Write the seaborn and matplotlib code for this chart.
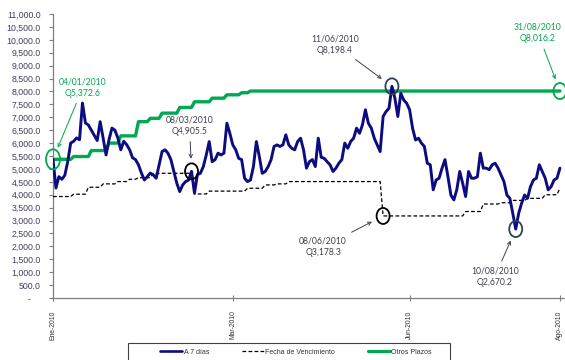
import numpy as np
import pandas as pd
import matplotlib
matplotlib.use("Agg")
import matplotlib.pyplot as plt
from matplotlib.patches import Ellipse, Rectangle
from matplotlib.lines import Line2D
from matplotlib.ticker import FixedLocator, FuncFormatter
import seaborn as sns

# Saldos diarios (millones de quetzales), 04/01/2010 - 31/08/2010, días hábiles
a7_dias = [
    5372.6, 4260, 4700, 4600, 4750, 5280, 6000, 6070, 6200, 6130,
    7550, 6780, 6700, 6500, 6300, 6100, 6830, 6200, 5540, 6130,
    6580, 6500, 6200, 5740, 6070, 5940, 5740, 5430, 5360, 5160,
    4840, 4570, 4700, 4840, 4770, 4640, 5160, 5670, 5740, 5610,
    5360, 4900, 4450, 4120, 4380, 4510, 4570, 4905.5, 4060, 4780,
    4830, 5090, 5540, 6060, 5280, 5360, 5610, 5540, 5610, 6770,
    6380, 5930, 5740, 5410, 5360, 4640, 4510, 4570, 5090, 6060,
    5480, 4830, 4900, 5090, 5360, 5870, 5930, 5870, 5930, 6320,
    5930, 5800, 5740, 6060, 6190, 5740, 5030, 5280, 5360, 5090,
    6190, 5450, 5410, 5280, 5160, 4900, 5030, 5220, 5360, 6000,
    5800, 6060, 6190, 6580, 6380, 6710, 7290, 6770, 6580, 6190,
    5930, 5670, 7030, 7220, 7350, 8198.4, 7740, 7030, 7930, 7670,
    7540, 7290, 6580, 6120, 6190, 6000, 5870, 5220, 5160, 4190,
    4570, 4640, 5030, 5360, 4700, 3990, 3800, 4190, 4900, 4440,
    3930, 4900, 4640, 4640, 4700, 5610, 5030, 5030, 4970, 5160,
    5220, 5030, 4770, 4510, 3990, 3860, 3280, 2670.2, 3280, 3670,
    3990, 3860, 4310, 4570, 4640, 5160, 4900, 4640, 4190, 4310,
    4570, 4640, 5030,
]

# Fecha de vencimiento: niveles y número de días que se mantiene cada uno
venc_niveles = [3930, 4020, 4290, 4420, 4510, 4600, 4660, 4830, 4030, 4140,
                4250, 4380, 4420, 4510, 3178.3, 3350, 3640, 3690, 3780, 3860,
                4000, 4260]
venc_dias = [7, 5, 5, 5, 4, 3, 5, 14, 5, 13,
             6, 4, 4, 32, 28, 6, 6, 4, 5, 6,
             5, 1]

# Otros plazos: niveles y número de días de cada nivel
otros_niveles = [5372.6, 5480, 5710, 6000, 6280, 6830, 6960, 7160, 7380, 7600,
                 7740, 7870, 7950, 8016.2]
otros_dias = [7, 6, 6, 4, 6, 4, 4, 6, 5, 6, 5, 5, 3, 106]

tick_pos = [0, 61, 121, 172]
tick_labels = ["Ene-2010", "Mar-2010", "Jun-2010", "Ago-2010"]

series_names = ["A 7 días", "Fecha de Vencimiento", "Otros Plazos"]

# Puntos destacados: (serie, índice, fecha, desplazamiento del texto en px)
destacados = [
    ("otros", 0, "04/01/2010", (30, 72)),
    ("a7", 47, "08/03/2010", (-2, 46)),
    ("a7", 115, "11/06/2010", (-57, 42)),
    ("otros", 172, "31/08/2010", (-22, 58)),
    ("venc", 112, "08/06/2010", (-60, -31)),
    ("a7", 157, "10/08/2010", (-21, -48)),
]

venc = np.repeat(venc_niveles, venc_dias)
otros = np.repeat(otros_niveles, otros_dias)
df = pd.DataFrame({
    "dia": np.arange(len(a7_dias)),
    "a7": a7_dias,
    "venc": venc,
    "otros": otros,
})

sns.set_theme(style="white")
plt.rcParams["font.family"] = ["Liberation Sans", "DejaVu Sans"]

NAVY = "#0c0c80"
GREEN = "#00a84f"
SLATE = "#2c4257"
TXT = "#463c5a"

fig = plt.figure(figsize=(5.65, 3.6), dpi=100)
ax = fig.add_axes([53 / 565, 1 - 298 / 360, (562 - 53) / 565, (298 - 14) / 360])

sns.lineplot(data=df, x="dia", y="otros", ax=ax, color=GREEN, linewidth=2.4,
             label=series_names[2], zorder=2)
sns.lineplot(data=df, x="dia", y="venc", ax=ax, color="black", linewidth=0.9,
             linestyle=(0, (3, 1.8)), label=series_names[1], zorder=3)
sns.lineplot(data=df, x="dia", y="a7", ax=ax, color=NAVY, linewidth=2.1,
             label=series_names[0], zorder=4)
if ax.get_legend() is not None:
    ax.get_legend().remove()

ax.set_xlim(0, 172.7)
ax.set_ylim(0, 11000)
ax.set_xlabel("")
ax.set_ylabel("")

for s in ["top", "right"]:
    ax.spines[s].set_visible(False)
for s in ["left", "bottom"]:
    ax.spines[s].set_color("#7f7f7f")
    ax.spines[s].set_linewidth(0.9)
ax.spines["bottom"].set_bounds(0, 174)
ax.spines["bottom"].set_clip_on(False)

ax.yaxis.set_major_locator(FixedLocator(np.arange(0, 11001, 500)))
ax.yaxis.set_major_formatter(FuncFormatter(
    lambda v, p: "-    " if v == 0 else f"{v:,.1f}"))
ax.tick_params(axis="y", direction="out", length=3, width=0.8, color="#7f7f7f",
               labelsize=6.3, labelcolor=TXT, pad=6, left=True)
ax.set_xticks(tick_pos)
ax.set_xticklabels(tick_labels, rotation=90, va="top", ha="center")
ax.tick_params(axis="x", direction="inout", length=4, width=0.8, color="#7f7f7f",
               labelsize=4.9, labelcolor="#333333", pad=7, bottom=True)

ann_font = ["Lato", "DejaVu Sans"]
px_x = 509 / 172.7
px_y = 284 / 11000
for serie, idx, fecha, off in destacados:
    val = df[serie].iloc[idx]
    if serie == "otros":
        c_txt, c_circ, c_arr = GREEN, GREEN, GREEN
    elif serie == "venc":
        c_txt, c_circ, c_arr = "#404040", "black", "#404040"
    else:
        c_txt, c_circ, c_arr = "#404050", SLATE if idx != 47 else "black", "#404050"
    w, h = (14, 20) if idx == 0 else (13, 16)
    ax.add_patch(Ellipse((idx, val), w / px_x, h / px_y, fill=False,
                         edgecolor=c_circ, linewidth=1.3, zorder=6, clip_on=False))
    ax.annotate(f"{fecha}\nQ{val:,.1f}", xy=(idx, val), xycoords="data",
                xytext=off, textcoords="offset pixels", ha="center", va="center",
                fontsize=6.2, family=ann_font, color=c_txt, linespacing=1.35,
                arrowprops=dict(arrowstyle="->", color=c_arr, lw=0.7,
                                shrinkA=2, shrinkB=9, mutation_scale=6),
                zorder=7, annotation_clip=False)

# Leyenda en un recuadro que continúa por debajo del borde inferior
fig.add_artist(Rectangle((128 / 565, -0.05), 322 / 565, 0.05 + 1 - 343 / 360,
                         transform=fig.transFigure, fill=False,
                         edgecolor="#404040", linewidth=0.8))
handles = [
    Line2D([], [], color=NAVY, lw=1.9),
    Line2D([], [], color="black", lw=0.9, linestyle=(0, (3, 1.8))),
    Line2D([], [], color=GREEN, lw=2.3),
]
leg = fig.legend(handles, series_names, loc="center left",
                 bbox_to_anchor=(160 / 565, 1 - 352 / 360),
                 ncol=3, fontsize=5, handlelength=3.2, columnspacing=4.7,
                 handletextpad=0.2, borderaxespad=0, borderpad=0,
                 frameon=False)
for t in leg.get_texts():
    t.set_color("#333333")

fig.savefig("out.png", dpi=100)
